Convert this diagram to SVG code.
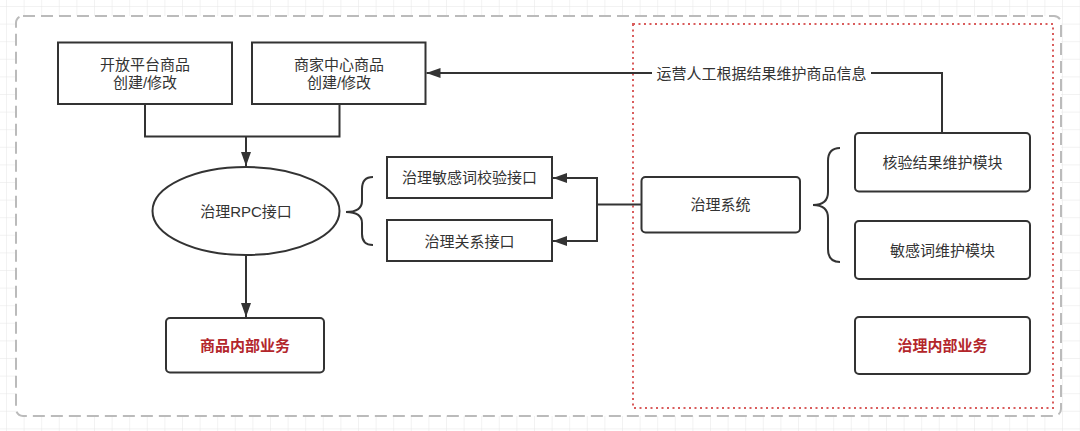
<svg xmlns="http://www.w3.org/2000/svg" width="1080" height="431" viewBox="0 0 1080 431">
<style>
.box{fill:#fff;stroke:#333;stroke-width:2}
.ln{fill:none;stroke:#333;stroke-width:2}
.t{font-family:"Liberation Sans","Noto Sans CJK SC",sans-serif;font-size:15px;fill:#333;text-anchor:middle;dominant-baseline:central}
.r{fill:#b3262b;font-weight:bold}
</style>
<defs>
<pattern id="grid" width="17.6" height="17.6" patternUnits="userSpaceOnUse" x="6" y="6">
<path d="M17.6 0 L0 0 L0 17.6" fill="none" stroke="#e6e6e6" stroke-width="1"/>
</pattern>
<marker id="arr" markerWidth="14" markerHeight="10" refX="14" refY="5" orient="auto" markerUnits="userSpaceOnUse">
<path d="M0,0 L14,5 L0,10 Z" fill="#333"/>
</marker>
</defs>
<rect width="1080" height="431" fill="#fff"/>
<rect width="1080" height="431" fill="url(#grid)"/>
<rect x="16" y="16" width="1045" height="400" rx="7" fill="#fff" stroke="#bbb" stroke-width="2" stroke-dasharray="12 6"/>
<rect x="633" y="24" width="420" height="384" fill="none" stroke="#d95c5c" stroke-width="2" stroke-dasharray="2 3.5"/>
<g id="connectors">
<path class="ln" d="M145,104 V136.5 H339.5 V104"/>
<path class="ln" d="M246,136.5 V166" marker-end="url(#arr)"/>
<path class="ln" d="M246,255 V317" marker-end="url(#arr)"/>
<path class="ln" d="M641,204.5 H597 V178 H553" marker-end="url(#arr)"/>
<path class="ln" d="M597,204.5 V241 H553" marker-end="url(#arr)"/>
<path class="ln" d="M942,133 V73 H426.5" marker-end="url(#arr)"/>
<rect x="652" y="63" width="219" height="20" fill="#fff"/>
<text class="t" x="761.5" y="73">运营人工根据结果维护商品信息</text>
<path class="ln" d="M373,177 Q362,177 362,189 L362,201 Q362,212 346,212 Q362,212 362,223 L362,234 Q362,245 373,245"/>
<path class="ln" d="M840,148 Q828,148 828,161 L828,192 Q828,205 813,205 Q828,205 828,218 L828,249 Q828,262 840,262"/>
</g>
<g id="n1"><rect class="box" x="58" y="42.5" width="174" height="61.5"/><text class="t" x="145" y="64">开放平台商品</text><text class="t" x="145" y="82.5">创建/修改</text></g>
<g id="n2"><rect class="box" x="252" y="42.5" width="173.5" height="61.5"/><text class="t" x="339" y="64">商家中心商品</text><text class="t" x="339" y="82.5">创建/修改</text></g>
<g id="n3"><ellipse class="box" cx="246" cy="211" rx="93.5" ry="44"/><text class="t" x="246" y="211">治理RPC接口</text></g>
<g id="n4"><rect class="box" x="166" y="318" width="158" height="54.5" rx="4"/><text class="t r" x="245" y="345">商品内部业务</text></g>
<g id="n5"><rect class="box" x="387" y="157" width="165" height="41"/><text class="t" x="469.5" y="177.5">治理敏感词校验接口</text></g>
<g id="n6"><rect class="box" x="387" y="220" width="165" height="41"/><text class="t" x="469.5" y="241">治理关系接口</text></g>
<g id="n7"><rect class="box" x="641.5" y="177" width="158.5" height="55.5" rx="4"/><text class="t" x="720.5" y="204.5">治理系统</text></g>
<g id="n8"><rect class="box" x="855" y="133" width="175" height="58.5" rx="4"/><text class="t" x="942.5" y="162.5">核验结果维护模块</text></g>
<g id="n9"><rect class="box" x="855" y="221" width="175" height="58" rx="4"/><text class="t" x="942.5" y="250">敏感词维护模块</text></g>
<g id="n10"><rect class="box" x="855" y="317" width="175" height="57" rx="4"/><text class="t r" x="942.5" y="345.5">治理内部业务</text></g>
</svg>
